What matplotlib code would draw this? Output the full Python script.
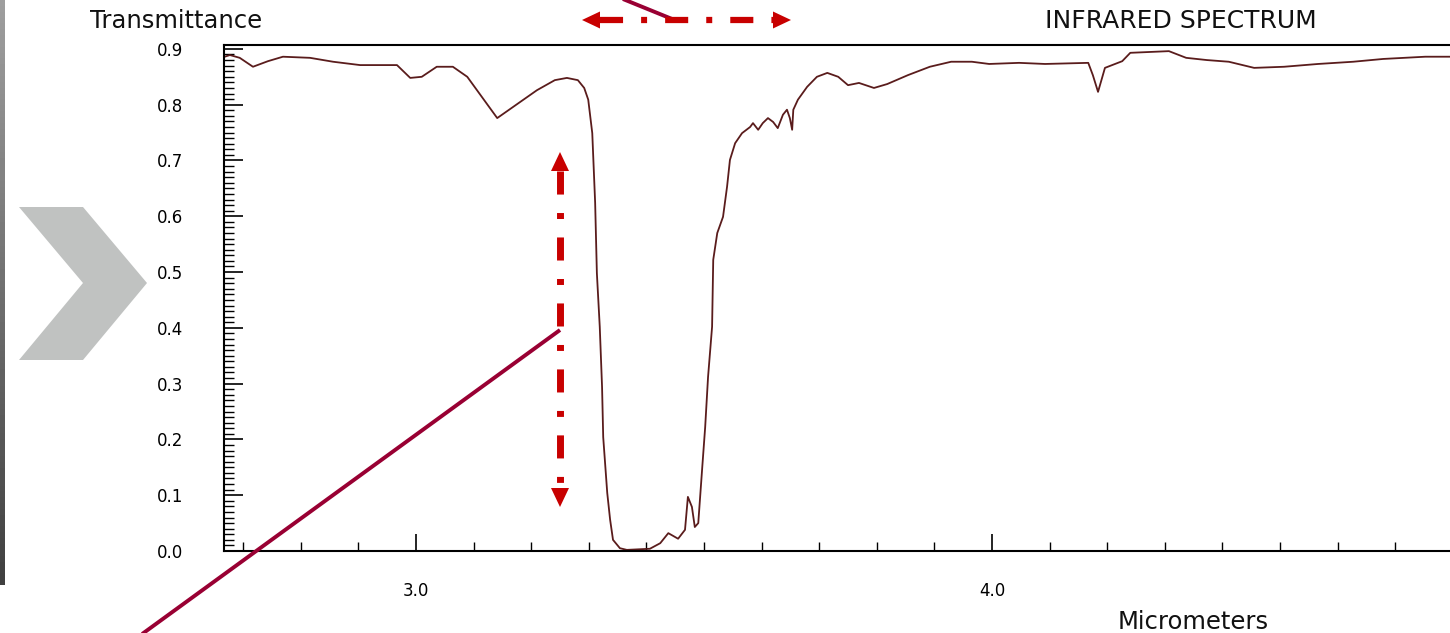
import numpy as np
import matplotlib.pyplot as plt
from matplotlib.patches import Polygon
from matplotlib.ticker import MultipleLocator

plt.rcParams['lines.scale_dashes'] = False

# 光谱数据: 波长 (micrometers) 与透过率
wavelength = [2.668, 2.677, 2.694, 2.717, 2.743, 2.769, 2.816, 2.856, 2.903, 2.967,
              2.990, 3.010, 3.036, 3.064, 3.089, 3.141, 3.181, 3.210, 3.241, 3.262,
              3.281, 3.292, 3.299, 3.306, 3.311, 3.314, 3.319, 3.323, 3.325, 3.332,
              3.337, 3.342, 3.354, 3.366, 3.406, 3.424, 3.438, 3.455, 3.467, 3.472,
              3.479, 3.484, 3.490, 3.497, 3.502, 3.507, 3.514, 3.516, 3.523, 3.533,
              3.540, 3.545, 3.554, 3.566, 3.580, 3.585, 3.594, 3.602, 3.611, 3.620,
              3.628, 3.637, 3.644, 3.649, 3.653, 3.655, 3.663, 3.679, 3.696, 3.714,
              3.733, 3.750, 3.769, 3.795, 3.818, 3.854, 3.892, 3.929, 3.965, 3.995,
              4.047, 4.092, 4.167, 4.175, 4.184, 4.191, 4.196, 4.226, 4.240, 4.285,
              4.307, 4.337, 4.373, 4.411, 4.455, 4.507, 4.566, 4.627, 4.679, 4.752,
              4.795]
transmittance = [0.886, 0.889, 0.884, 0.868, 0.878, 0.886, 0.884, 0.877, 0.871, 0.871,
                 0.848, 0.850, 0.868, 0.868, 0.850, 0.776, 0.805, 0.826, 0.844, 0.848,
                 0.844, 0.830, 0.809, 0.749, 0.624, 0.498, 0.402, 0.294, 0.204, 0.104,
                 0.056, 0.020, 0.005, 0.002, 0.004, 0.014, 0.032, 0.022, 0.038, 0.097,
                 0.079, 0.043, 0.050, 0.151, 0.222, 0.312, 0.402, 0.522, 0.570, 0.599,
                 0.653, 0.701, 0.731, 0.749, 0.760, 0.767, 0.755, 0.767, 0.776, 0.769,
                 0.758, 0.782, 0.791, 0.776, 0.755, 0.791, 0.809, 0.832, 0.850, 0.857,
                 0.850, 0.835, 0.839, 0.830, 0.837, 0.853, 0.868, 0.877, 0.877, 0.873,
                 0.875, 0.873, 0.875, 0.853, 0.823, 0.848, 0.866, 0.878, 0.893, 0.895,
                 0.896, 0.884, 0.880, 0.877, 0.866, 0.868, 0.873, 0.877, 0.882, 0.886,
                 0.886]

y_major = [0.0, 0.1, 0.2, 0.3, 0.4, 0.5, 0.6, 0.7, 0.8, 0.9]
y_labels = ['0.0', '0.1', '0.2', '0.3', '0.4', '0.5', '0.6', '0.7', '0.8', '0.9']
x_major = [3.0, 4.0]
x_labels = ['3.0', '4.0']

W, H = 1450, 633
fig = plt.figure(figsize=(W / 100, H / 100), dpi=100)
fig.patch.set_facecolor('white')

ax = fig.add_axes([224 / W, 82 / H, (W - 224) / W, (551 - 45) / H])
ax.plot(wavelength, transmittance, color='#5a1c1c', lw=1.3)
ax.set_xlim(2.6667, 4.795)
ax.set_ylim(0, 0.907)
ax.spines['right'].set_visible(False)
for s in ['left', 'bottom', 'top']:
    ax.spines[s].set_linewidth(1.5)

ax.set_yticks(y_major)
ax.set_yticklabels(y_labels)
ax.yaxis.set_minor_locator(MultipleLocator(0.01))
ax.set_xticks(x_major)
ax.set_xticklabels(x_labels)
ax.xaxis.set_minor_locator(MultipleLocator(0.1))
ax.tick_params(axis='y', which='major', direction='in', length=13.7, width=1.2, pad=29.5, labelsize=12)
ax.tick_params(axis='y', which='minor', direction='in', length=7.5, width=1.0)
ax.tick_params(axis='x', which='major', direction='in', length=12, width=1.2, pad=22, labelsize=12)
ax.tick_params(axis='x', which='minor', direction='in', length=6.5, width=1.0)
ax.tick_params(top=False, right=False)

# 装饰层 (像素坐标)
ov = fig.add_axes([0, 0, 1, 1], zorder=5)
ov.patch.set_alpha(0)
ov.imshow(np.linspace(0.62, 0.25, 100)[:, None], extent=(0, 5, 585, 0),
          cmap='gray', vmin=0, vmax=1, aspect='auto')
ov.add_patch(Polygon([(19, 207), (83, 207), (147, 283), (83, 360), (19, 360), (83, 283)],
                     closed=True, color='#c0c2c1', lw=0))

ov.plot([138, 560], [637, 330], color='#990033', lw=2.8, solid_capstyle='butt')
ov.plot([618, 677], [-3, 21], color='#990033', lw=2.8, solid_capstyle='butt')

red = '#c80000'
ov.plot([600, 773], [20, 20], color=red, lw=4.5, linestyle=(0, (16.6, 13, 4.3, 13)))
ov.add_patch(Polygon([(582, 20), (600, 11.5), (600, 28.5)], color=red, lw=0))
ov.add_patch(Polygon([(791, 20), (773, 11.5), (773, 28.5)], color=red, lw=0))
ov.plot([560, 560], [171, 488], color=red, lw=5, linestyle=(0, (16.6, 13.3, 4.3, 13.3)))
ov.add_patch(Polygon([(560, 152), (551, 171), (569, 171)], color=red, lw=0))
ov.add_patch(Polygon([(560, 507), (551, 488), (569, 488)], color=red, lw=0))

ov.text(90, 28, 'Transmittance', fontsize=17.5, ha='left', va='baseline', color='#111111')
ov.text(1045, 28, 'INFRARED SPECTRUM', fontsize=18, ha='left', va='baseline', color='#111111')
ov.text(1118, 629, 'Micrometers', fontsize=17.5, ha='left', va='baseline', color='#111111')

ov.set_xlim(0, W)
ov.set_ylim(H, 0)
ov.axis('off')

fig.savefig('out.png', dpi=100)
